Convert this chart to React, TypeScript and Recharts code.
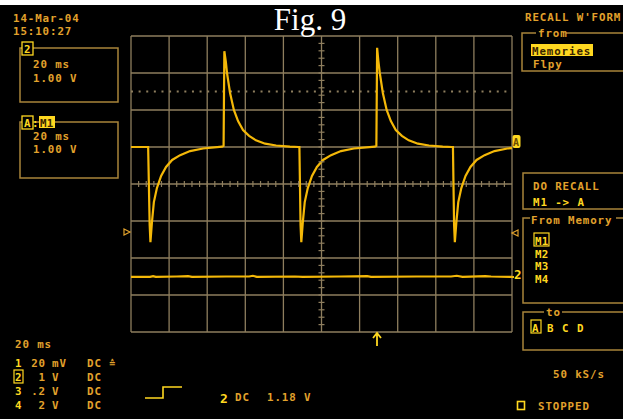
import React from "react";
import { ComposedChart, Line, Scatter, XAxis, YAxis, CartesianGrid, ReferenceLine } from "recharts";

// ---- data (time in divisions, 20 ms/div; amplitude in divisions) ----
const xTicks = [0, 1, 2, 3, 4, 5, 6, 7, 8, 9, 10];
const yTicks = [-4, -3, -2, -1, 0, 1, 2, 3, 4];

const waveATime = [
  0, 0.42, 0.45, 0.49, 0.51, 0.55, 0.6, 0.68, 0.79, 0.92, 1.08, 1.29, 1.55, 1.89, 2.39, 2.43,
  2.45, 2.49, 2.52, 2.6, 2.7, 2.81, 2.94, 3.1, 3.28, 3.52, 3.81, 4.17, 4.4, 4.42, 4.45, 4.47,
  4.51, 4.56, 4.64, 4.75, 4.88, 5.04, 5.25, 5.51, 5.85, 6.4, 6.44,
  6.46, 6.49, 6.53, 6.61, 6.71, 6.82, 6.95, 7.11, 7.29, 7.53, 7.82, 8.18, 8.42, 8.45, 8.48, 8.5,
  8.54, 8.59, 8.67, 8.78, 8.91, 9.07, 9.28, 9.54, 9.88, 10.0,
];
const waveAVolts = [
  1.0, 1.0, 1.0, -1.11, -1.57, -1.03, -0.49, -0.11, 0.22, 0.46, 0.65, 0.78, 0.89, 0.96, 1.01, 1.03,
  3.59, 3.3, 3.0, 2.46, 2.0, 1.7, 1.46, 1.3, 1.18, 1.09, 1.04, 1.01, 1.0, 1.0, -1.11, -1.57,
  -1.03, -0.49, -0.11, 0.22, 0.46, 0.65, 0.78, 0.89, 0.96, 1.01, 1.03,
  3.68, 3.35, 3.0, 2.46, 2.0, 1.7, 1.46, 1.3, 1.18, 1.09, 1.04, 1.01, 1.0, 1.0, -1.11, -1.57,
  -1.03, -0.49, -0.11, 0.22, 0.46, 0.65, 0.78, 0.89, 0.96, 0.97,
];

const ch2Time = [0, 0.5, 0.58, 0.65, 1.2, 1.5, 1.6, 2.5, 3.1, 3.2, 3.3, 4.3, 4.5, 5.5, 6.2, 6.3, 7.5, 8.4, 8.55, 8.7, 9.3, 9.45, 10.0];
const ch2Volts = [-2.51, -2.51, -2.49, -2.51, -2.5, -2.49, -2.51, -2.5, -2.5, -2.48, -2.51, -2.5, -2.51, -2.5, -2.49, -2.51, -2.5, -2.5, -2.48, -2.51, -2.49, -2.5, -2.51];

const cursorLevel = 2.5;
const minorStep = 0.2;

const leftInfo = [
  { label: "2", lines: ["20 ms", "1.00 V"] },
  { label: "A", tag: "M1", lines: ["20 ms", "1.00 V"] },
];
const chanRows = [
  { ch: "1", val: "20", unit: "mV", cpl: "DC" },
  { ch: "2", val: "1", unit: "V", cpl: "DC" },
  { ch: "3", val: ".2", unit: "V", cpl: "DC" },
  { ch: "4", val: "2", unit: "V", cpl: "DC" },
];
const memories = ["M1", "M2", "M3", "M4"];
const targets = ["A", "B", "C", "D"];

// ---- styles ----
const BG = "#000000";
const GRID = "#8e7e5e";
const TRACE = "#f4b808";
const TXT = "#e2a22c";
const HI = "#ffd820";
const BOX = "#a8843a";
const MONO = "'DejaVu Sans Mono', monospace";

const waveA = waveATime.map((x, i) => ({ x, y: waveAVolts[i] }));
const wave2 = ch2Time.map((x, i) => ({ x, y: ch2Volts[i] }));
const hTicks = Array.from({ length: 49 }, (_, i) => ({ x: +(minorStep * (i + 1)).toFixed(2), y: 0 }));
const vTicks = Array.from({ length: 39 }, (_, i) => ({ x: 5, y: +(-4 + minorStep * (i + 1)).toFixed(2) }));

const HTick = (p: any) => <line x1={p.cx} x2={p.cx} y1={p.cy - 3} y2={p.cy + 3} stroke={GRID} strokeWidth={1.2} />;
const VTick = (p: any) => <line x1={p.cx - 3} x2={p.cx + 3} y1={p.cy} y2={p.cy} stroke={GRID} strokeWidth={1.2} />;

const T = ({ x, y, children, fill = TXT, anchor = "start", size = 10.8, weight = "bold", ls = 0.9 }: any) => (
  <text x={x} y={y} fill={fill} textAnchor={anchor} fontSize={size} fontFamily={MONO} fontWeight={weight} letterSpacing={ls}>
    {children}
  </text>
);

export default function App() {
  return (
    <div style={{ position: "absolute", left: 0, top: 0, width: 623, height: 419, background: BG, overflow: "hidden" }}>
      <div style={{ position: "absolute", left: 0, top: 0, width: 623, height: 5, background: "#ffffff" }} />
      <div style={{ position: "absolute", left: 0, top: 0 }}>
        <ComposedChart width={623} height={419} margin={{ top: 36, right: 111, bottom: 87, left: 131 }}>
          <XAxis type="number" dataKey="x" domain={[0, 10]} ticks={xTicks} hide />
          <YAxis type="number" dataKey="y" domain={[-4, 4]} ticks={yTicks} hide />
          <CartesianGrid stroke={GRID} strokeWidth={1.3} />
          <ReferenceLine y={cursorLevel} stroke={GRID} strokeWidth={2} strokeDasharray="2 5.62" ifOverflow="hidden" />
          <Scatter data={hTicks} shape={HTick} isAnimationActive={false} />
          <Scatter data={vTicks} shape={VTick} isAnimationActive={false} />
          <Line data={wave2} dataKey="y" type="linear" stroke={TRACE} strokeWidth={2.2} dot={false} isAnimationActive={false} />
          <Line data={waveA} dataKey="y" type="linear" stroke={TRACE} strokeWidth={2.2} dot={false} isAnimationActive={false} />
        </ComposedChart>
      </div>
      <svg width={623} height={419} style={{ position: "absolute", left: 0, top: 0, pointerEvents: "none" }}>
        {/* title */}
        <text x={310} y={30} fill="#ffffff" textAnchor="middle" fontSize={31} fontFamily="'Liberation Serif', 'Times New Roman', serif">
          Fig. 9
        </text>

        {/* date */}
        <T x={13} y={22}>14-Mar-04</T>
        <T x={13} y={35}>15:10:27</T>

        {/* left box 1 */}
        <rect x={20} y={48} width={98} height={54} fill="none" stroke={BOX} strokeWidth={1.5} />
        <rect x={22} y={42} width={11} height={13} fill="#000" stroke={HI} strokeWidth={1.3} />
        <T x={24} y={53} fill={HI}>{leftInfo[0].label}</T>
        <T x={33} y={68}>{leftInfo[0].lines[0]}</T>
        <T x={33} y={82}>{leftInfo[0].lines[1]}</T>

        {/* left box 2 */}
        <rect x={20} y={122} width={98} height={56} fill="none" stroke={BOX} strokeWidth={1.5} />
        <rect x={22} y={116} width={11} height={13} fill="#000" stroke={HI} strokeWidth={1.3} />
        <T x={24} y={127} fill={HI}>{leftInfo[1].label}</T>
        <T x={32} y={127} fill={HI}>:</T>
        <rect x={39} y={116} width={16} height={12} fill={HI} />
        <T x={40} y={126.5} fill="#3a2400" ls={0.3}>{leftInfo[1].tag}</T>
        <T x={33} y={140}>{leftInfo[1].lines[0]}</T>
        <T x={33} y={153}>{leftInfo[1].lines[1]}</T>

        {/* right panel */}
        <T x={525} y={21}>RECALL W'FORM</T>
        <rect x={522} y={33} width={120} height={38} fill="none" stroke={BOX} strokeWidth={1.5} />
        <rect x={536} y={27} width={30} height={11} fill="#000" />
        <T x={538} y={37}>from</T>
        <rect x={531} y={44} width={62} height={12} fill={HI} />
        <T x={532} y={54.5} fill="#3a2400">Memories</T>
        <T x={533} y={68}>Flpy</T>

        <rect x={523} y={173} width={120} height={36} fill="none" stroke={BOX} strokeWidth={1.5} />
        <T x={533} y={190}>DO RECALL</T>
        <T x={533} y={206} fill={HI}>M1 -&gt; A</T>

        <rect x={523} y={218} width={120} height={85} fill="none" stroke={BOX} strokeWidth={1.5} />
        <rect x={530} y={212} width={86} height={12} fill="#000" />
        <T x={531} y={224}>From Memory</T>
        <rect x={534} y={233} width={15} height={13} fill="#000" stroke={HI} strokeWidth={1.2} />
        {memories.map((m, i) => (
          <T key={m} x={535} y={245 + i * 12.6} fill={HI} ls={0.3}>{m}</T>
        ))}

        <rect x={523} y={312} width={120} height={38} fill="none" stroke={BOX} strokeWidth={1.5} />
        <rect x={544} y={305} width={18} height={12} fill="#000" />
        <T x={546} y={316}>to</T>
        <rect x={531} y={320} width={10} height={13} fill="#000" stroke={HI} strokeWidth={1.2} />
        {targets.map((c, i) => (
          <T key={c} x={532 + i * 15} y={332} fill={HI}>{c}</T>
        ))}

        <T x={553} y={378}>50 kS/s</T>
        <rect x={517.5} y={401.5} width={7} height={8} fill="none" stroke={HI} strokeWidth={1.6} />
        <T x={538} y={410}>STOPPED</T>

        {/* bottom-left */}
        <T x={15} y={348}>20 ms</T>
        {chanRows.map((r, i) => {
          const y = 367 + i * 14;
          return (
            <g key={r.ch}>
              {r.ch === "2" && <rect x={14} y={y - 11} width={9} height={13} fill="#000" stroke={HI} strokeWidth={1.2} />}
              <T x={15} y={y} fill={HI}>{r.ch}</T>
              <T x={46} y={y} anchor="end">{r.val}</T>
              <T x={52} y={y}>{r.unit}</T>
              <T x={87} y={y}>{r.cpl}</T>
            </g>
          );
        })}
        <T x={109} y={367} size={10}>≙</T>
        <path d="M145 398 H163 V387 H182" fill="none" stroke={HI} strokeWidth={1.6} />
        <T x={220} y={403} fill={HI} size={13}>2</T>
        <T x={235} y={401}>DC</T>
        <T x={267} y={401}>1.18 V</T>

        {/* trigger arrow */}
        <path d="M377 346 V334 M373 338 L377 333 L381 338" fill="none" stroke={HI} strokeWidth={1.8} />

        {/* side markers */}
        <path d="M124 229 L130 232 L124 235 Z" fill="none" stroke={TXT} strokeWidth={1.2} />
        <path d="M518 230 L512 233 L518 236 Z" fill="none" stroke={TXT} strokeWidth={1.2} />
        <rect x={512.5} y={135} width={8} height={13} rx={2} fill={HI} />
        <T x={513} y={146} fill="#6a4a00" size={10} ls={0}>A</T>
        <path d="M512 277 H514" stroke={TRACE} strokeWidth={2.2} />
        <T x={514} y={279} fill={HI} size={12.5} ls={0}>2</T>
      </svg>
    </div>
  );
}
